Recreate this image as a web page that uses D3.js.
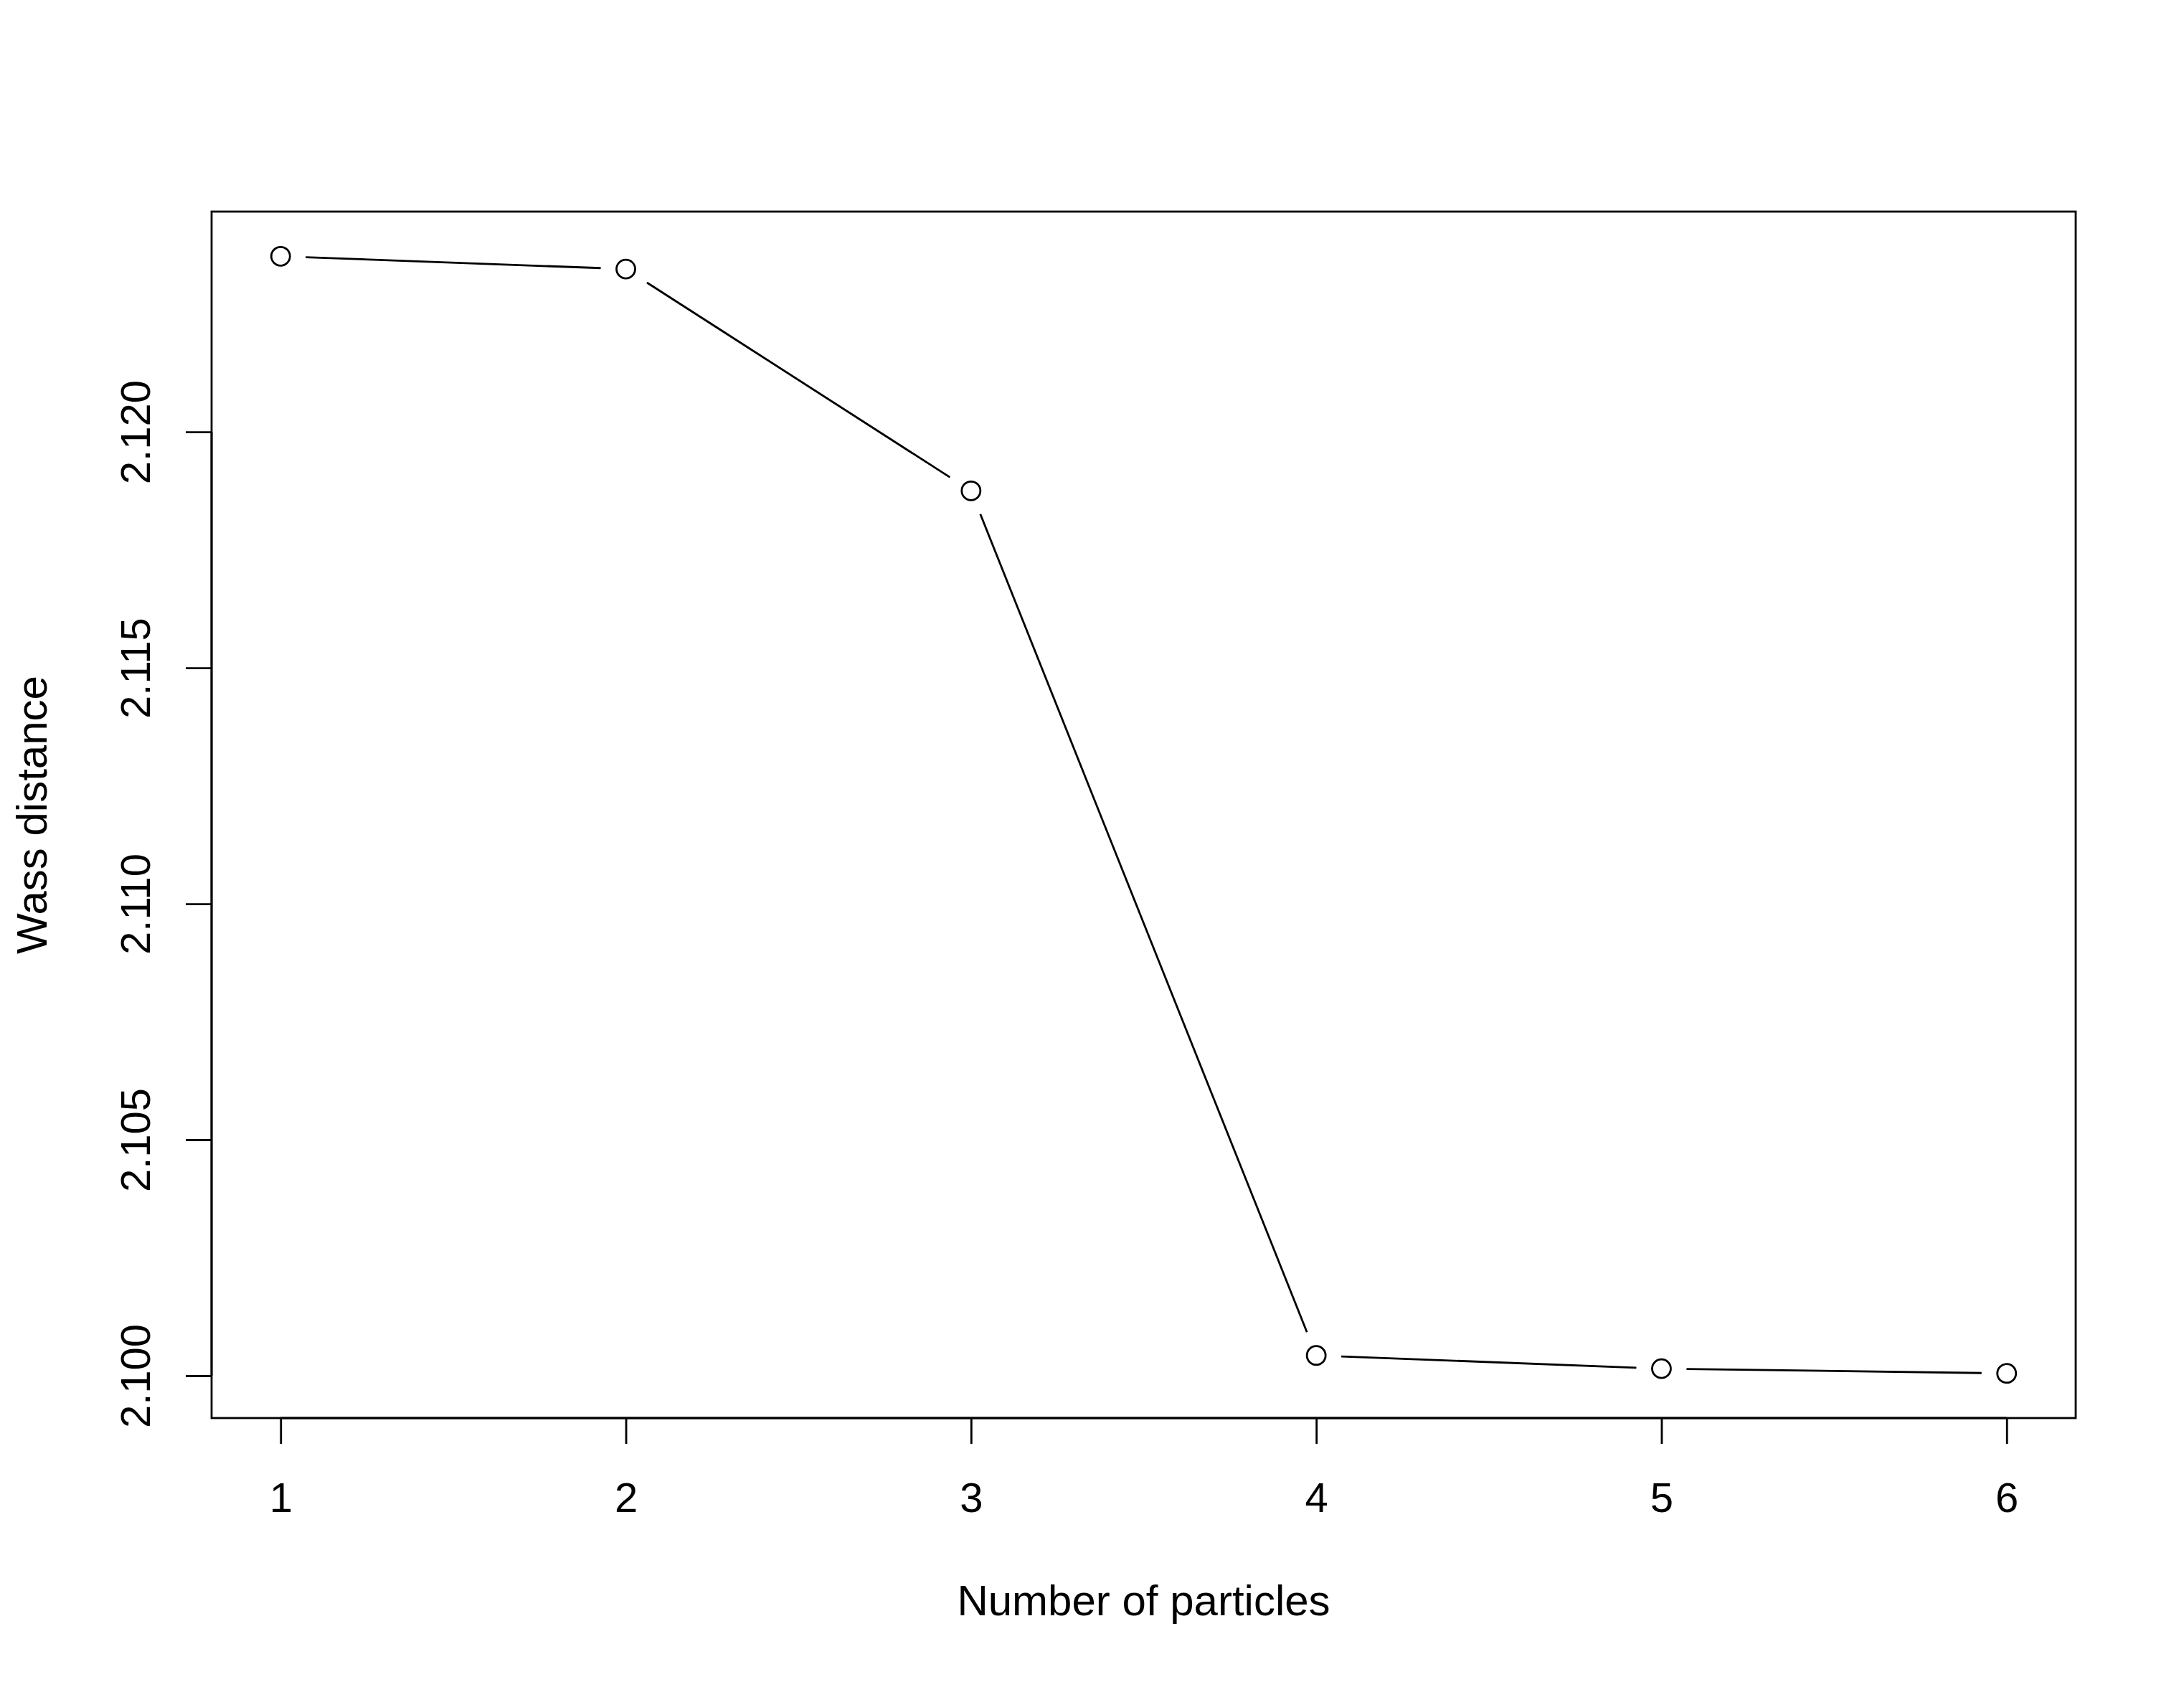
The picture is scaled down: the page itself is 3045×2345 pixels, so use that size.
<!DOCTYPE html>
<html>
<head>
<meta charset="utf-8">
<script src="https://cdn.jsdelivr.net/npm/d3@7"></script>
<style>
  html, body { margin: 0; padding: 0; background: #fff; }
  svg { display: block; }
  text { font-family: "Liberation Sans", Arial, sans-serif; fill: #000; }
</style>
</head>
<body>
<script>
// ---- data ----
const particles = [1, 2, 3, 4, 5, 6];
const wassDistance = [2.12372, 2.12345, 2.11875, 2.10043, 2.10015, 2.10005];
const xTicks = [1, 2, 3, 4, 5, 6];
const yTicks = [2.100, 2.105, 2.110, 2.115, 2.120];
const xLabel = "Number of particles";
const yLabel = "Wass distance";

// ---- layout ----
const W = 3045, H = 2345;
const plot = { left: 295, right: 2894, top: 295, bottom: 1977 };

const svg = d3.select("body").append("svg")
  .attr("width", W).attr("height", H);
svg.append("rect").attr("width", W).attr("height", H).attr("fill", "#fff");

// R-style 4% extension of the ranges
const xExt = d3.extent(particles), yExt = d3.extent(wassDistance);
const xPad = (xExt[1] - xExt[0]) * 0.04, yPad = (yExt[1] - yExt[0]) * 0.04;
const x = d3.scaleLinear().domain([xExt[0] - xPad, xExt[1] + xPad]).range([plot.left, plot.right]);
const y = d3.scaleLinear().domain([yExt[0] - yPad, yExt[1] + yPad]).range([plot.bottom, plot.top]);

const lw = 2.8;

// box
svg.append("rect")
  .attr("x", plot.left).attr("y", plot.top)
  .attr("width", plot.right - plot.left).attr("height", plot.bottom - plot.top)
  .attr("fill", "none").attr("stroke", "#000").attr("stroke-width", lw);

// x axis
const xAxis = d3.axisBottom(x).tickValues(xTicks).tickSize(36).tickPadding(52)
  .tickFormat(d3.format("d"));
const gx = svg.append("g").attr("transform", `translate(0,${plot.bottom})`).call(xAxis);
gx.select(".domain").attr("d", `M${x(xTicks[0])},0H${x(xTicks[xTicks.length - 1])}`)
  .attr("stroke", "#000").attr("stroke-width", lw);
gx.selectAll(".tick line").attr("stroke", "#000").attr("stroke-width", lw);
gx.selectAll(".tick text").attr("font-size", 58).attr("dy", null)
  .attr("y", 131).attr("font-family", "Liberation Sans, Arial, sans-serif").attr("fill", "#000");

// y axis
const yAxis = d3.axisLeft(y).tickValues(yTicks).tickSize(36).tickFormat(d3.format(".3f"));
const gy = svg.append("g").attr("transform", `translate(${plot.left},0)`).call(yAxis);
gy.select(".domain").attr("d", `M0,${y(yTicks[0])}V${y(yTicks[yTicks.length - 1])}`)
  .attr("stroke", "#000").attr("stroke-width", lw);
gy.selectAll(".tick line").attr("stroke", "#000").attr("stroke-width", lw);
gy.selectAll(".tick text")
  .attr("font-size", 58).attr("font-family", "Liberation Sans, Arial, sans-serif").attr("fill", "#000")
  .attr("x", null).attr("dy", null)
  .attr("text-anchor", "middle")
  .attr("transform", "translate(-86,0) rotate(-90)")
  .attr("y", 0);

// line segments with gaps (R type="b")
const gap = 35;
const pts = particles.map((p, i) => [x(p), y(wassDistance[i])]);
const segs = [];
for (let i = 0; i < pts.length - 1; i++) {
  const [x0, y0] = pts[i], [x1, y1] = pts[i + 1];
  const dx = x1 - x0, dy = y1 - y0, L = Math.hypot(dx, dy);
  if (L > 2 * gap) {
    const ux = dx / L, uy = dy / L;
    segs.push([[x0 + ux * gap, y0 + uy * gap], [x1 - ux * gap, y1 - uy * gap]]);
  }
}
svg.append("g").selectAll("line").data(segs).join("line")
  .attr("x1", d => d[0][0]).attr("y1", d => d[0][1])
  .attr("x2", d => d[1][0]).attr("y2", d => d[1][1])
  .attr("stroke", "#000").attr("stroke-width", lw);

// points
svg.append("g").selectAll("circle").data(particles).join("circle")
  .attr("cx", d => x(d)).attr("cy", (d, i) => y(wassDistance[i]))
  .attr("r", 13).attr("fill", "none").attr("stroke", "#000").attr("stroke-width", lw);

// axis titles
svg.append("text")
  .attr("x", (plot.left + plot.right) / 2).attr("y", 2252)
  .attr("text-anchor", "middle").attr("font-size", 60)
  .text(xLabel);
svg.append("text")
  .attr("transform", `translate(65,${(plot.top + plot.bottom) / 2}) rotate(-90)`)
  .attr("text-anchor", "middle").attr("font-size", 60)
  .text(yLabel);
</script>
</body>
</html>
